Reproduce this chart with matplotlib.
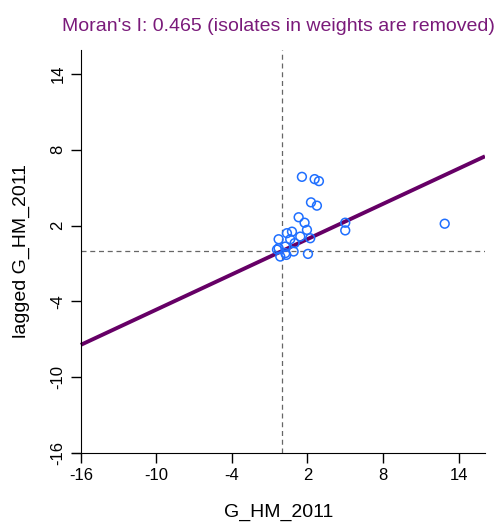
import numpy as np
import matplotlib
matplotlib.use("Agg")
import matplotlib.pyplot as plt

plt.rcParams['font.family'] = ['Liberation Sans', 'DejaVu Sans']
plt.rcParams['axes.unicode_minus'] = False

# standardised values
x_vals = [1.56, 2.57, 2.91, 2.28, 2.75, 1.30, 1.77, 1.96, 5.0, 5.0, 12.9,
          0.77, 0.37, -0.29, 1.43, 2.22, 0.63, 0.98, 0.24, -0.29, 0.9,
          -0.16, 0.24, 2.04, -0.42, 0.32]
y_vals = [5.86, 5.68, 5.52, 3.84, 3.58, 2.66, 2.23, 1.66, 2.23, 1.62, 2.15,
          1.52, 1.40, 0.92, 1.13, 1.0, 0.92, 0.61, 0.34, 0.21, -0.05,
          -0.45, -0.18, -0.24, 0.10, -0.32]
moran_i = 0.465
ticks = [-16, -10, -4, 2, 8, 14]

fig = plt.figure(figsize=(5, 5.22), dpi=100)
ax = fig.add_axes([0.144, 0.1322, 0.826, 0.772])
ax.set_xlim(-16.7, 16.1)
ax.set_ylim(-16, 15.9)

ax.axvline(0, color='#666666', ls='--', lw=0.9, dashes=(4, 3))
ax.plot([-16, 16.1], [0, 0], color='#666666', ls='--', lw=0.9, dashes=(4, 3))

xs = np.array([-16, 16.1])
ax.plot(xs, moran_i * xs, color='#660066', lw=2.8, solid_capstyle='butt')

ax.scatter(x_vals, y_vals, s=40, facecolors='none', edgecolors='#1f6fff',
           linewidths=1.1, zorder=3)

for s in ['top', 'right']:
    ax.spines[s].set_visible(False)
ax.spines['left'].set_position(('data', -16))
ax.set_xticks(ticks)
ax.set_yticks(ticks)
ax.set_yticklabels([str(t) for t in ticks], rotation=90, va='center')
ax.tick_params(direction='out', length=7, width=1, labelsize=12, pad=4)

ax.set_xlabel('G_HM_2011', fontsize=14, labelpad=15)
ax.set_ylabel('lagged G_HM_2011', fontsize=14, labelpad=15)
ax.set_title("Moran's I: 0.465 (isolates in weights are removed)",
             color='#7a1a7a', fontsize=14, pad=14)

fig.savefig('out.png', dpi=100)
